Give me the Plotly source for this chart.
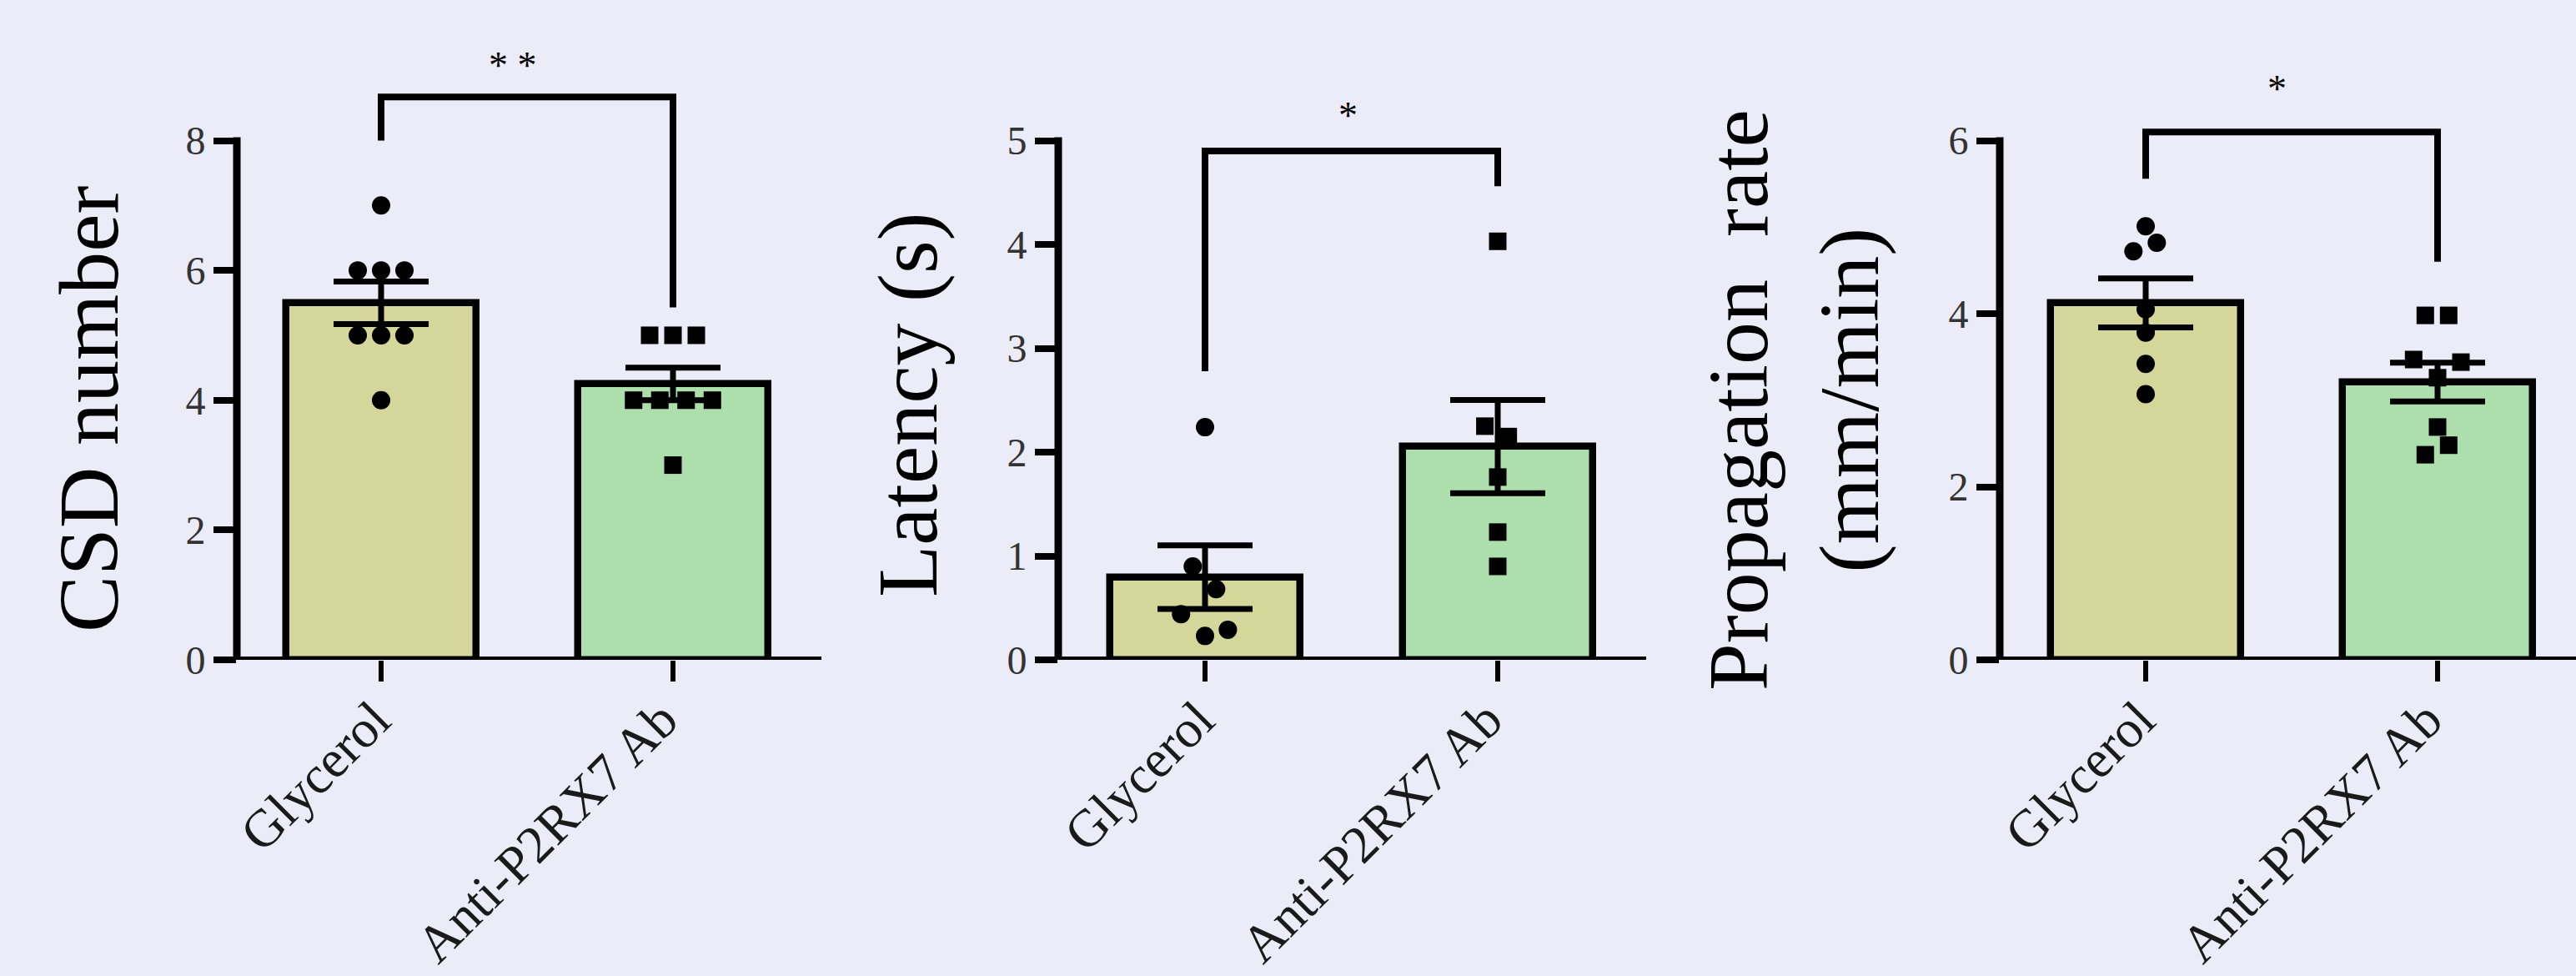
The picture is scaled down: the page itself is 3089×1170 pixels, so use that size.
import numpy as np
import plotly.graph_objects as go

# ---------------- data ----------------
categories = ["Glycerol", "Anti-P2RX7 Ab"]

csd_glycerol = [7, 6, 6, 6, 5, 5, 5, 4]
csd_anti = [5, 5, 5, 4, 4, 4, 4, 3]

latency_glycerol = [2.24, 0.90, 0.68, 0.44, 0.29, 0.23]
latency_anti = [4.03, 2.25, 2.15, 1.76, 1.23, 0.90]

rate_glycerol = [5.01, 4.82, 4.72, 4.05, 3.78, 3.42, 3.07]
rate_anti = [3.98, 3.98, 3.47, 3.44, 3.26, 2.69, 2.48, 2.37]

y_titles = ["CSD number", "Latency (s)", "Propagation  rate<br>(mm/min)"]
y_ticks = [[0, 2, 4, 6, 8], [0, 1, 2, 3, 4, 5], [0, 2, 4, 6]]
significance = ["* *", "*", "*"]
# bracket: [left leg bottom, top, right leg bottom] in data units
brackets = [[8.0, 8.67, 5.43], [2.78, 4.90, 4.56], [5.56, 6.10, 4.60]]
star_y = [9.16, 5.24, 6.60]
star_x = [0.45, 0.49, 0.45]

# ---------------- styling / layout ----------------
W, H = 3089, 1170
FONT = "Liberation Serif"
BG = "#ECEBF8"
BAR_COLORS = ["#D5D69A", "#ADDFAD"]

# point jitter offsets (x, category units)
jit_csd_g = [0, -0.08, 0, 0.08, -0.08, 0, 0.08, 0]
jit_csd_a = [-0.08, 0, 0.08, -0.135, -0.045, 0.045, 0.135, 0]
jit_lat_g = [0, -0.042, 0.038, -0.082, 0.078, 0]
jit_lat_a = [0, -0.044, 0.036, 0, 0, 0]
jit_rate_g = [0, 0.038, -0.042, 0, 0, 0, 0]
jit_rate_a = [-0.042, 0.038, -0.082, 0.08, 0, 0, 0.038, -0.042]

panels = [
    dict(g=csd_glycerol, a=csd_anti, jg=jit_csd_g, ja=jit_csd_a,
         edge=284, right=985, cat0=457, unit=350, axmax=8),
    dict(g=latency_glycerol, a=latency_anti, jg=jit_lat_g, ja=jit_lat_a,
         edge=1269, right=1974, cat0=1445, unit=351, axmax=5),
    dict(g=rate_glycerol, a=rate_anti, jg=jit_rate_g, ja=jit_rate_a,
         edge=2398, right=3089, cat0=2573, unit=350, axmax=6),
]
title_pos = [(107, 490), (1089, 485), (2151, 480)]
# rotated category label centres: (x shift from tick in px, y px)
label_place = [(-79.3, 930.6), (-152, 997)]
LABEL_SIZE = 63.5

Y0_PX, YTOP_PX, YMAX_PX = 791, 168.5, 40

fig = go.Figure()
shapes = []
annotations = []

for i, p in enumerate(panels):
    k = "" if i == 0 else str(i + 1)
    xa, ya = "x" + k, "y" + k
    px_per_unit = (Y0_PX - YTOP_PX) / p["axmax"]
    ymax = (Y0_PX - YMAX_PX) / px_per_unit

    means = [np.mean(p["g"]), np.mean(p["a"])]
    sems = [np.std(p["g"], ddof=1) / np.sqrt(len(p["g"])),
            np.std(p["a"], ddof=1) / np.sqrt(len(p["a"]))]

    fig.add_trace(go.Bar(
        x=[0, 1], y=means, width=0.65, xaxis=xa, yaxis=ya,
        marker=dict(color=BAR_COLORS, line=dict(color="black", width=8.5)),
        error_y=dict(type="data", array=sems, visible=True,
                     color="black", thickness=7, width=57),
        showlegend=False, hoverinfo="skip"))

    fig.add_trace(go.Scatter(
        x=[0 + o for o in p["jg"]], y=p["g"], mode="markers",
        xaxis=xa, yaxis=ya, showlegend=False,
        marker=dict(symbol="circle", size=22, color="black")))
    fig.add_trace(go.Scatter(
        x=[1 + o for o in p["ja"]], y=p["a"], mode="markers",
        xaxis=xa, yaxis=ya, showlegend=False,
        marker=dict(symbol="square", size=21, color="black")))

    b = brackets[i]
    fig.add_trace(go.Scatter(
        x=[0, 0, 1, 1], y=[b[0], b[1], b[1], b[2]], mode="lines",
        xaxis=xa, yaxis=ya, showlegend=False, hoverinfo="skip",
        line=dict(color="black", width=8)))

    # axes
    x_lo = (p["edge"] - p["cat0"]) / p["unit"]
    x_hi = (p["right"] - p["cat0"]) / p["unit"]
    dom_x = [p["edge"] / W, min(p["right"] / W, 1.0)]
    dom_y = [(H - Y0_PX) / H, (H - YMAX_PX) / H]

    fig.layout["xaxis" + k] = dict(
        domain=dom_x, range=[x_lo, x_hi], anchor=ya,
        tickvals=[0, 1], showticklabels=False,
        ticks="outside", ticklen=25, tickwidth=6, tickcolor="black",
        showline=False, showgrid=False, zeroline=False, automargin=False)
    fig.layout["yaxis" + k] = dict(
        domain=dom_y, range=[0, ymax], anchor=xa,
        tickvals=y_ticks[i], ticks="outside", ticklen=27, tickwidth=8,
        tickcolor="black", showline=False, showgrid=False, zeroline=False,
        automargin=False,
        tickfont=dict(family=FONT, size=48, color="#333"))

    # axis lines (y line stops at the top tick)
    shapes.append(dict(type="line", xref="paper", yref=ya,
                       x0=p["edge"] / W, x1=p["edge"] / W,
                       y0=0, y1=p["axmax"] + 4 / px_per_unit,
                       line=dict(color="black", width=9)))
    shapes.append(dict(type="line", xref="paper", yref=ya,
                       x0=(p["edge"] - 27) / W, x1=p["right"] / W,
                       y0=0, y1=0, line=dict(color="black", width=8)))

    # rotated category labels
    for j, cat in enumerate(categories):
        dx, cy = label_place[j]
        annotations.append(dict(
            x=j, xref=xa, xshift=dx, y=(H - cy) / H, yref="paper",
            text=cat, textangle=-45, showarrow=False,
            xanchor="center", yanchor="middle",
            font=dict(family=FONT, size=LABEL_SIZE, color="#1a1a1a")))

    annotations.append(dict(
        x=star_x[i], y=star_y[i], xref=xa, yref=ya, text=significance[i],
        showarrow=False, xanchor="center", yanchor="middle",
        font=dict(family=FONT, size=46, color="black")))

    tx, ty = title_pos[i]
    annotations.append(dict(
        x=tx / W, y=(H - ty) / H, xref="paper", yref="paper",
        text=y_titles[i], textangle=-90, showarrow=False,
        xanchor="center", yanchor="middle",
        font=dict(family=FONT, size=102, color="black")))

fig.update_layout(
    width=W, height=H, margin=dict(l=0, r=0, t=0, b=0, pad=0),
    paper_bgcolor=BG, plot_bgcolor=BG,
    shapes=shapes, annotations=annotations, showlegend=False,
    bargap=0)

fig.write_html(
    "out.html",
    config={"displayModeBar": False},
    post_script=("document.documentElement.style.margin='0';"
                 "document.body.style.margin='0';"
                 "document.body.style.padding='0';"
                 "document.body.style.overflow='hidden';"
                 "document.documentElement.style.overflow='hidden';"
                 "document.documentElement.style.background='" + BG + "';"
                 "document.body.style.background='" + BG + "';"))
